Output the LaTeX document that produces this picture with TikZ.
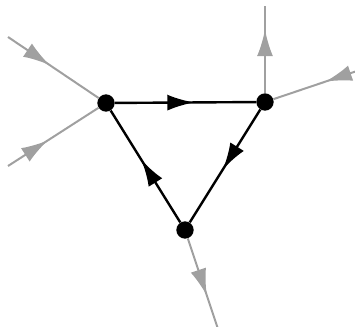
\documentclass[tikz,border=0pt]{standalone}
\usetikzlibrary{arrows.meta,decorations.markings}
\definecolor{edgegray}{RGB}{160,160,160}
\begin{document}
\begin{tikzpicture}[x=0.75pt,y=-0.75pt,
  vtx/.style={circle,fill=black,inner sep=0pt,minimum size=13pt},
  midarrow/.style={postaction={decorate},decoration={markings,
    mark=at position #1 with {\arrow{Latex[length=20pt,width=12pt]}}}},
  inner/.style={draw=black,line width=1.8pt},
  outer/.style={draw=edgegray,line width=1.5pt,color=edgegray}]
\useasboundingbox (0,0) rectangle (355,327);
\node[vtx] (A) at (106,103) {};
\node[vtx] (B) at (265,102) {};
\node[vtx] (C) at (185,230) {};
\coordinate (L1) at (8,37);
\coordinate (L2) at (8,166);
\coordinate (T) at (265,6);
\coordinate (R) at (357,71);
\coordinate (D) at (218,329);
\draw[outer,midarrow=0.46] (L1) -- (A);
\draw[outer,midarrow=0.44] (L2) -- (A);
\draw[outer,midarrow=0.73] (B) -- (T);
\draw[outer,midarrow=0.38] (R) -- (B);
\draw[outer,midarrow=0.63] (C) -- (D);
\draw[inner,midarrow=0.56] (A) -- (B);
\draw[inner,midarrow=0.53] (B) -- (C);
\draw[inner,midarrow=0.56] (C) -- (A);
\end{tikzpicture}
\end{document}
